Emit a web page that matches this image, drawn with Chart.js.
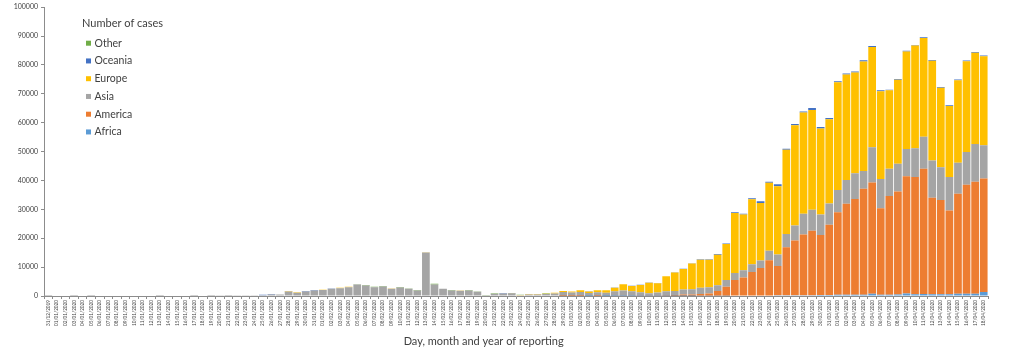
<!DOCTYPE html>
<html><head><meta charset="utf-8">
<script src="https://cdn.jsdelivr.net/npm/chart.js@4.4.1/dist/chart.umd.min.js"></script>
<style>html,body{margin:0;padding:0;background:#fff;}canvas{display:block;}</style>
</head><body>
<canvas id="c" width="1024" height="356"></canvas>
<script>
// ---- categories ----
const DATES = [
'31/12/2019',
'01/01/2020','02/01/2020','03/01/2020','04/01/2020','05/01/2020','06/01/2020','07/01/2020','08/01/2020','09/01/2020','10/01/2020',
'11/01/2020','12/01/2020','13/01/2020','14/01/2020','15/01/2020','16/01/2020','17/01/2020','18/01/2020','19/01/2020','20/01/2020',
'21/01/2020','22/01/2020','23/01/2020','24/01/2020','25/01/2020','26/01/2020','27/01/2020','28/01/2020','29/01/2020','30/01/2020','31/01/2020',
'01/02/2020','02/02/2020','03/02/2020','04/02/2020','05/02/2020','06/02/2020','07/02/2020','08/02/2020','09/02/2020','10/02/2020',
'11/02/2020','12/02/2020','13/02/2020','14/02/2020','15/02/2020','16/02/2020','17/02/2020','18/02/2020','19/02/2020','20/02/2020',
'21/02/2020','22/02/2020','23/02/2020','24/02/2020','25/02/2020','26/02/2020','27/02/2020','28/02/2020','29/02/2020',
'01/03/2020','02/03/2020','03/03/2020','04/03/2020','05/03/2020','06/03/2020','07/03/2020','08/03/2020','09/03/2020','10/03/2020',
'11/03/2020','12/03/2020','13/03/2020','14/03/2020','15/03/2020','16/03/2020','17/03/2020','18/03/2020','19/03/2020','20/03/2020',
'21/03/2020','22/03/2020','23/03/2020','24/03/2020','25/03/2020','26/03/2020','27/03/2020','28/03/2020','29/03/2020','30/03/2020','31/03/2020',
'01/04/2020','02/04/2020','03/04/2020','04/04/2020','05/04/2020','06/04/2020','07/04/2020','08/04/2020','09/04/2020','10/04/2020',
'11/04/2020','12/04/2020','13/04/2020','14/04/2020','15/04/2020','16/04/2020','17/04/2020','18/04/2020'
];

// ---- series values (daily new cases); rows: Dec 31 | January | February | March | April ----
const AFRICA = [
0,
0,0,0,0,0,0,0,0,0,0, 0,0,0,0,0,0,0,0,0,0, 0,0,0,0,0,0,0,0,0,0, 0,
0,0,0,0,0,0,0,0,0,0, 0,0,0,0,0,0,0,0,0,0, 0,0,0,0,0,0,0,0,0,
0,0,2,0,1,3,5,8,10,12, 15,20,25,30,40,50,50,50,100,150, 150,150,200,200,250,250,250,300,300,350,350,
400,400,400,400,800,400,400,500,900,600, 700,600,600,600,800,800,800,1400
];
const AMERICA = [
0,
0,0,0,0,0,0,0,0,0,0, 0,0,0,0,0,0,0,0,0,0, 0,0,0,0,0,0,0,0,0,0, 0,
0,0,0,0,0,0,0,0,0,0, 0,0,0,0,0,0,0,0,0,0, 0,0,0,0,0,0,0,0,5,
10,15,20,30,40,60,80,100,130,160, 200,250,300,450,500,600,800,1700,3100,5350, 6250,8150,9500,12200,10150,16650,18950,21000,22300,20750,24350,
28600,31500,33200,36700,38500,30000,34200,35700,40600,40600, 43400,33400,32600,29000,34600,37700,38800,39300
];
const ASIA = [
27,
0,0,17,0,15,0,0,0,0,0, 0,0,1,0,0,0,4,0,17,77, 20,60,80,90,300,550,480,1560,1150,1560, 1900,
2070,2470,2700,3050,3950,3620,3050,3270,2470,2930, 2470,1900,15020,4020,2500,1900,1790,1900,1500,250, 760,830,810,250,530,480,660,890,1350,
1240,1400,1050,1250,1100,1600,1800,1500,1200,800, 1000,1400,1400,1800,1800,2200,2200,2000,2300,2500, 2500,2700,2600,3300,4000,4600,5200,7200,7300,7100,7300,
7700,8300,8900,6200,12200,10100,9500,9600,9400,10000, 11000,12900,11400,11600,10700,11400,13000,11500
];
const EUROPE = [
0,
0,0,0,0,0,0,0,0,0,0, 0,0,0,0,0,0,0,0,0,0, 0,0,0,3,0,0,20,150,150,0, 0,
100,0,150,150,0,0,0,0,150,0, 0,0,150,0,0,0,150,0,0,0, 0,50,70,80,150,200,150,250,350,
350,550,500,700,850,1200,2150,1850,2500,3650, 3200,5150,6450,7050,8900,9700,9500,10550,12500,20700, 19300,22500,19900,23500,23600,29100,34700,35000,34500,29800,29200,
37300,36500,34900,37900,34700,30400,27100,29100,33800,35500, 34250,34600,27500,24600,28600,31400,31600,30800
];
const OCEANIA = [
0,
0,0,0,0,0,0,0,0,0,0, 0,0,0,0,0,0,0,0,0,0, 0,0,0,0,100,150,0,0,0,150, 150,
0,150,0,0,0,0,0,0,0,0, 0,0,0,0,0,0,0,0,0,0, 0,150,150,0,0,0,0,0,0,
0,0,30,0,0,40,70,50,50,50, 50,50,50,100,100,150,150,200,200,300, 300,350,600,350,700,400,450,350,700,500,400,
350,350,350,450,400,300,250,250,250,250, 250,250,250,250,250,250,250,250
];
const OTHER = [
0,
0,0,0,0,0,0,0,0,0,0, 0,0,0,0,0,0,0,0,0,0, 0,0,0,0,0,0,0,0,0,0, 0,
0,0,0,0,150,150,150,150,0,150, 150,150,0,200,0,150,0,150,100,100, 150,0,0,100,0,0,100,0,0,
0,0,0,0,0,0,0,0,0,0, 0,0,0,0,0,0,0,0,0,0, 0,0,0,0,0,0,0,0,0,0,0,
0,0,0,0,0,0,0,0,0,0, 0,0,0,0,0,0,0,0
];

// ---- labels / ticks ----
const SERIES_NAMES = ['Africa','America','Asia','Europe','Oceania','Other'];
const SERIES_DATA = [AFRICA, AMERICA, ASIA, EUROPE, OCEANIA, OTHER];
const COLORS = ['#5B9BD5','#ED7D31','#A5A5A5','#FFC000','#4472C4','#70AD47'];
const LEGEND_TITLE = 'Number of cases';
const X_TITLE = 'Day, month and year of reporting';
const Y_MIN = 0, Y_MAX = 100000, Y_STEP = 10000;

const FONT = 'Lato, "Open Sans", sans-serif';
const AXIS_COLOR = '#8c8c8c';
const TEXT_COLOR = '#404040';

// shift the centred x title to the left by padding it with trailing spaces
function shiftedTitle(text, shiftPx, size) {
  const m = document.createElement('canvas').getContext('2d');
  m.font = size + 'px ' + FONT;
  const sw = m.measureText(' ').width || 3;
  return text + ' '.repeat(Math.max(0, Math.round(2 * shiftPx / sw)));
}

const insideLegend = {
  id: 'insideLegend',
  afterDraw(chart) {
    const {ctx, chartArea} = chart;
    const x0 = chartArea.left + 38, y0 = chartArea.top + 16;
    ctx.save();
    ctx.textBaseline = 'middle';
    ctx.textAlign = 'left';
    ctx.font = '11px ' + FONT;
    ctx.fillStyle = TEXT_COLOR;
    ctx.fillText(LEGEND_TITLE, x0, y0);
    const ds = chart.data.datasets;
    const n = ds.length;
    ctx.font = '10.5px ' + FONT;
    for (let k = 0; k < n; k++) {
      const d = ds[n - 1 - k];
      const y = y0 + 20 + k * 17.75;
      ctx.fillStyle = d.backgroundColor;
      ctx.fillRect(x0 + 4, y - 2.5, 5, 5);
      ctx.fillStyle = TEXT_COLOR;
      ctx.fillText(d.label, x0 + 12.5, y);
    }
    ctx.restore();
  }
};

Chart.defaults.font.family = FONT;

new Chart(document.getElementById('c').getContext('2d'), {
  type: 'bar',
  data: {
    labels: DATES,
    datasets: SERIES_NAMES.map((name, k) => ({
      label: name,
      data: SERIES_DATA[k],
      backgroundColor: COLORS[k],
      borderWidth: 0,
      barPercentage: 0.9,
      categoryPercentage: 1.0
    }))
  },
  options: {
    responsive: false,
    animation: false,
    devicePixelRatio: 1,
    layout: {padding: {top: 4, right: 36, bottom: 0, left: 0}},
    plugins: {
      legend: {display: false},
      tooltip: {enabled: false},
      title: {display: false}
    },
    scales: {
      x: {
        stacked: true,
        offset: true,
        grid: {display: true, drawOnChartArea: false, drawTicks: true, tickLength: 3, color: AXIS_COLOR, offset: true},
        border: {display: true, color: AXIS_COLOR, width: 1},
        ticks: {autoSkip: false, minRotation: 90, maxRotation: 90, padding: 1,
                font: {size: 4.7, family: FONT}, color: '#404040'},
        title: {display: true, text: shiftedTitle(X_TITLE, 33, 11), color: TEXT_COLOR,
                font: {size: 11, family: FONT}, padding: {top: 0, bottom: 8}},
        afterFit(s) { s.height = 60; }
      },
      y: {
        stacked: true,
        min: Y_MIN, max: Y_MAX,
        grid: {display: true, drawOnChartArea: false, drawTicks: true, tickLength: 3, color: AXIS_COLOR},
        border: {display: true, color: AXIS_COLOR, width: 1},
        ticks: {stepSize: Y_STEP, padding: 3, color: '#404040', font: {size: 7, family: FONT},
                callback: v => String(v)},
        afterFit(s) { s.width = 44; }
      }
    }
  },
  plugins: [insideLegend]
});
</script>
</body></html>
